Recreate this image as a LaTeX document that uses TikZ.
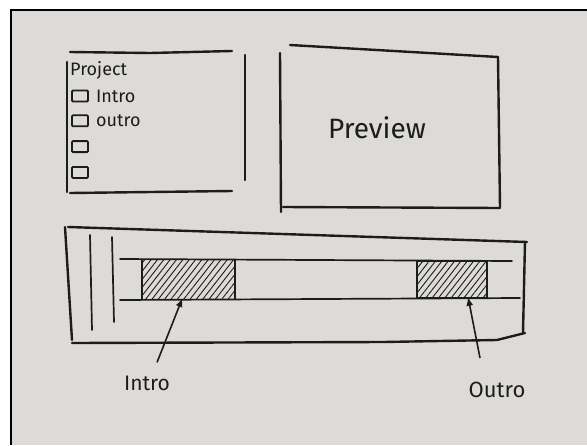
\documentclass[tikz,border=0pt]{standalone}
\usepackage{fontspec}
\setmainfont{Fira Sans}
\usetikzlibrary{arrows.meta,positioning,patterns.meta}
\definecolor{paper}{RGB}{221,219,215}
\definecolor{ink}{RGB}{28,28,28}

\begin{document}
\begin{tikzpicture}[x=1pt, y=-1pt,
    pen/.style={ink, line width=2.4pt, line cap=round},
    thinpen/.style={ink, line width=1.7pt, line cap=round},
    clipbox/.style={draw=ink, line width=1.6pt, inner sep=0pt, pattern={Lines[angle=52,distance=5pt,line width=0.9pt]}, pattern color=ink},
    itembox/.style={draw=ink, line width=1.8pt, rounded corners=1pt, minimum width=16pt, minimum height=11pt, inner sep=0pt},
    pointer/.style={ink, line width=1.6pt, -{Latex[length=9pt,width=7pt]}},
    hand/.style={text=ink, inner sep=1pt, font=\fontsize{#1}{#1}\selectfont}]
  \useasboundingbox (0,0) rectangle (587,445);
  % paper and photo frame
  \fill[white] (0,0) rectangle (587,445);
  \fill[paper] (11,10) rectangle (587,445);
  \draw[black, line width=2.2pt] (11,445) -- (11,10) -- (587,10);

  % project panel
  \draw[pen] (70,52) -- (150,53) -- (232,51);
  \draw[pen] (67,62) -- (67,192);
  \draw[pen] (245,55) -- (245,180);
  \draw[pen] (70,193) -- (232,191);
  \node[hand=18, anchor=west] (project) at (69,70) {Project};
  \node[itembox] (item1) at (80,96) {};
  \node[itembox, below=12pt of item1] (item2) {};
  \node[itembox, below=13pt of item2] (item3) {};
  \node[itembox, below=13pt of item3] (item4) {};
  \node[hand=18, right=6pt of item1] (itemintro) {Intro};
  \node[hand=18, right=6pt of item2] (itemoutro) {outro};

  % preview panel
  \draw[pen] (290,45) -- (498,57);
  \draw[pen] (280,53) -- (281,212);
  \draw[pen] (498,57) -- (500,207);
  \draw[pen] (283,207) -- (500,208);
  \node[hand=28] (preview) at (377,128) {Preview};

  % timeline panel
  \draw[pen] (68,227) -- (527,242);
  \draw[pen] (65,227) -- (72,340);
  \draw[pen] (72,343) -- (383,342) -- (497,340) -- (525,333);
  \draw[pen] (525,242) -- (523,333);
  \draw[thinpen] (90,235) -- (92,330);
  \draw[thinpen] (112,237) -- (114,322);
  \draw[thinpen] (120,259) -- (512,261);
  \draw[thinpen] (120,300) -- (520,298);
  \node[clipbox, minimum width=93pt, minimum height=40pt] (introclip) at (188.5,279.5) {};
  \node[clipbox, minimum width=70pt, minimum height=37pt] (outroclip) at (452,279.5) {};

  % callouts
  \node[hand=21] (introlbl) at (147,383) {Intro};
  \node[hand=22] (outrolbl) at (497,390) {Outro};
  \draw[pointer] ([shift={(10,-12)}]introlbl.north) -- ([xshift=-6pt,yshift=2pt]introclip.south);
  \draw[pointer] ([shift={(-17,-23)}]outrolbl.north) -- ([xshift=16pt,yshift=2pt]outroclip.south);
\end{tikzpicture}
\end{document}
